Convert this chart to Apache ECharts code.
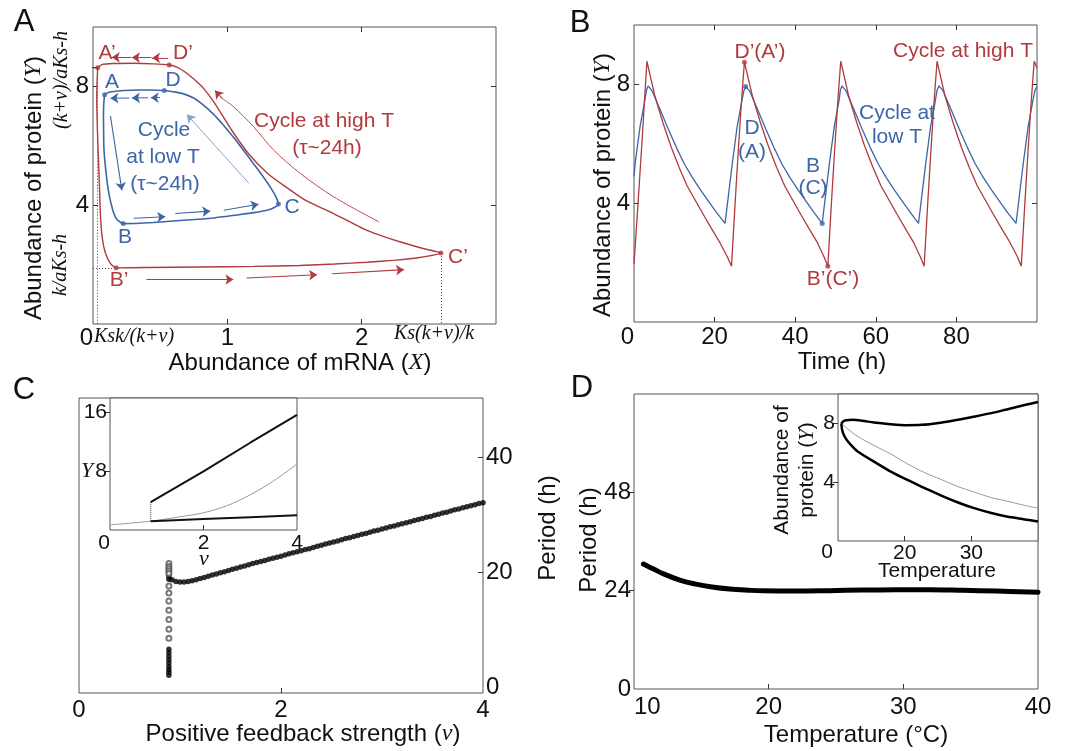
<!DOCTYPE html>
<html><head><meta charset="utf-8">
<script src="https://cdn.jsdelivr.net/npm/echarts@6/dist/echarts.min.js"></script>
<style>html,body{margin:0;padding:0;background:#fff}#main{width:1078px;height:751px}</style>
</head><body><div id="main"></div>
<script>
// ---------------- DATA ----------------
// Panel A: phase plane (X = mRNA, Y = protein)
const redCycleA = [
[0.035,8.63],[0.03,8.1],[0.028,7.6],[0.033,6.5],[0.042,5.4],[0.049,4.5],[0.055,3.72],[0.064,3.1],[0.079,2.62],[0.098,2.32],[0.123,2.08],[0.148,1.95],[0.173,1.89],
[0.4,1.9],[0.8,1.92],[1.2,1.94],[1.54,1.97],[1.8,2.02],[2.04,2.08],[2.25,2.15],[2.42,2.23],[2.589,2.39],
[2.45,2.55],[2.29,2.76],[2.16,2.95],[2.04,3.15],[1.92,3.42],[1.79,3.72],[1.68,3.95],[1.58,4.17],[1.44,4.6],[1.3,5.07],[1.155,5.75],[1.03,6.54],[0.905,7.44],[0.82,7.95],[0.75,8.25],[0.68,8.5],[0.62,8.66],[0.567,8.72],
[0.45,8.76],[0.3,8.78],[0.15,8.77],[0.07,8.74],[0.035,8.63]
];
const blueCycleA = [
[0.086,7.72],[0.08,7.4],[0.078,7.06],[0.079,6.5],[0.081,5.94],[0.09,5.4],[0.104,4.83],[0.118,4.4],[0.134,4.06],[0.15,3.8],[0.166,3.61],[0.19,3.47],[0.225,3.38],
[0.45,3.42],[0.7,3.5],[0.9,3.57],[1.07,3.67],[1.2,3.75],[1.295,3.83],[1.35,3.92],[1.38,4.04],
[1.36,4.3],[1.32,4.61],[1.26,5.0],[1.196,5.39],[1.12,5.85],[1.047,6.28],[0.97,6.7],[0.898,7.06],[0.82,7.38],[0.749,7.61],[0.68,7.74],[0.625,7.8],[0.53,7.86],
[0.43,7.88],[0.328,7.88],[0.23,7.86],[0.154,7.83],[0.11,7.79],[0.086,7.72]
];
const redPointsA = [[0.035,8.63],[0.567,8.72],[2.589,2.39],[0.173,1.89]];   // A', D', C', B'
const bluePointsA = [[0.086,7.72],[0.53,7.86],[1.38,4.04],[0.225,3.38]];    // A, D, C, B
const redArrowsA = [
 [[0.559,8.96],[0.44,8.96]],[[0.435,8.97],[0.29,8.97]],[[0.286,8.98],[0.14,8.98]],
 [[0.398,1.49],[1.045,1.50]],[[1.144,1.55],[1.668,1.66]],[[1.78,1.69],[2.315,1.83]],
 [[0.96,7.6],[0.908,7.86]]
];
const redCurvedArrowA = [[2.128,3.44],[1.792,4.28],[1.543,5.07],[1.344,5.86],[1.194,6.65],[1.045,7.32],[0.96,7.6]];
const blueArrowsA = [
 [[0.50,7.62],[0.43,7.62]],[[0.41,7.62],[0.29,7.61]],[[0.27,7.61],[0.13,7.60]],
 [[0.13,7.0],[0.215,4.5]],
 [[0.303,3.56],[0.538,3.61]],[[0.613,3.72],[0.873,3.80]],[[0.973,3.83],[1.233,4.03]]
];
const lightBlueArrowA = [[[1.16,4.74],[0.70,7.05]]];
const dottedRefsA = [[[0.035,8.63],[0.035,0]],[[0,1.89],[0.173,1.89]],[[2.589,2.39],[2.589,0]]];
const aPrimeLevel = [[-0.15,8.63],[0.035,8.63]];

// Panel B: time series
const redTimeB = [0,1.0,2.0,3.2, 5.2,7.2,9.2,11.2,13.2,15.2,17.2,19.2,21.2,23.2,24.2, 25.0,25.8,26.6,27.4,
 29.4,31.4,33.4,35.4,37.4,39.4,41.4,43.4,45.4,47.2,48.1, 48.9,49.7,50.5,51.3,
 53.3,55.3,57.3,59.3,61.3,63.3,65.3,67.3,69.3,71.1,72.0, 72.8,73.6,74.4,75.2,
 77.2,79.2,81.2,83.2,85.2,87.2,89.2,91.2,93.2,95.2,96.1, 96.9,97.7,98.5,99.3,100];
const redValB = [1.95,4.0,6.1,8.78, 7.6,6.7,5.9,5.2,4.58,4.1,3.62,3.15,2.7,2.18,1.88, 3.8,5.6,7.3,8.75,
 7.6,6.7,5.9,5.2,4.58,4.1,3.62,3.15,2.7,2.18,1.88, 3.8,5.6,7.3,8.78,
 7.6,6.7,5.9,5.2,4.58,4.1,3.62,3.15,2.7,2.18,1.88, 3.8,5.6,7.3,8.78,
 7.6,6.7,5.9,5.2,4.58,4.1,3.62,3.15,2.7,2.18,1.88, 3.8,5.6,7.3,8.78,8.55];
const blueTimeB = [0,0.3,1.5,2.7,3.1,3.5, 4.5,6.5,8.5,10.5,12.5,14.5,16.5,18.5,20.5,22.6,
 23.5,24.4,25.6,26.8,27.3,27.7, 28.7,30.7,32.7,34.7,36.7,38.7,40.7,42.7,44.7,46.7,
 47.6,48.5,49.7,50.9,51.2,51.6, 52.6,54.6,56.6,58.6,60.6,62.6,64.6,66.6,68.6,70.6,
 71.5,72.4,73.6,74.8,75.2,75.7, 76.7,78.7,80.7,82.7,84.7,86.7,88.7,90.7,92.7,94.8,
 95.7,96.6,97.8,99.0,99.5,100];
const blueValB = [4.9,5.35,6.58,7.47,7.8,7.95, 7.78,7.15,6.5,5.88,5.32,4.86,4.45,4.06,3.68,3.32,
 4.34,5.35,6.58,7.47,7.8,7.93, 7.78,7.15,6.5,5.88,5.32,4.86,4.45,4.06,3.68,3.32,
 4.34,5.35,6.58,7.47,7.8,7.95, 7.78,7.15,6.5,5.88,5.32,4.86,4.45,4.06,3.68,3.32,
 4.34,5.35,6.58,7.47,7.8,7.95, 7.78,7.15,6.5,5.88,5.32,4.86,4.45,4.06,3.68,3.32,
 4.34,5.35,6.58,7.47,7.8,7.93];
const redMarksB = [[27.4,8.75],[48.1,1.88]];
const blueMarksB = [[27.7,7.93],[46.7,3.32]];

// Panel C: period vs positive feedback strength
const vMain = [0.92,0.96,1.00,1.04,1.08,1.12,1.16,1.20,1.24,1.28,1.32,1.36,1.40,1.44,1.48,1.52,1.56,1.60,1.64,1.68,1.72,1.76,1.80,1.84,1.88,1.92,1.96,2.00,
 2.04,2.08,2.12,2.16,2.20,2.24,2.28,2.32,2.36,2.40,2.44,2.48,2.52,2.56,2.60,2.64,2.68,2.72,2.76,2.80,2.84,2.88,2.92,2.96,3.00,
 3.04,3.08,3.12,3.16,3.20,3.24,3.28,3.32,3.36,3.40,3.44,3.48,3.52,3.56,3.60,3.64,3.68,3.72,3.76,3.80,3.84,3.88,3.92,3.96,4.00];
const periodMain = [18.7,18.4,18.3,18.3,18.4,18.5,18.7,18.9,19.1,19.3,19.5,19.7,19.9,20.1,20.3,20.5,20.7,20.9,21.1,21.3,21.5,21.7,21.85,22.05,22.25,22.45,22.6,22.8,
 23.0,23.2,23.4,23.55,23.75,23.95,24.1,24.3,24.5,24.7,24.9,25.1,25.25,25.45,25.65,25.85,26.0,26.2,26.4,26.6,26.75,26.95,27.15,27.3,27.5,
 27.7,27.9,28.05,28.25,28.45,28.6,28.8,29.0,29.15,29.35,29.55,29.7,29.9,30.1,30.3,30.45,30.65,30.85,31.0,31.2,31.4,31.55,31.75,31.95,32.1];
const vStack = 0.89;
const stackFilled = [19.3,18.8,6.6,6.0,5.4,4.8,4.2,3.6,3.1,2.6,2.1];
const stackOpen = [21.5,21.0,20.6,20.2,19.8,17.6,16.4,15.0,13.4,11.8,10.1,8.5];
// Panel C inset: Y vs v
const insetCUpper = [[0.87,3.8],[2,8.0],[3,11.9],[4,15.7]];
const insetCLower = [[0.87,1.2],[2,1.5],[3,1.75],[4,2.0]];
const insetCJump = [[0.87,1.2],[0.87,3.8]];
const insetCGray = [[0,0.7],[0.87,1.2],[1.5,1.8],[2.0,2.35],[2.5,3.3],[3.0,4.8],[3.5,6.7],[4.0,9.0]];

// Panel D: period vs temperature
const periodD = [[10.7,30.5],[11.5,29.2],[12.2,28.1],[13.4,26.6],[14.6,25.6],[15.8,24.9],[17.1,24.4],[18.5,24.1],[19.6,23.95],[22.1,23.9],[24.5,24.0],[27,24.15],[29.5,24.25],[31.9,24.25],[34.4,24.1],[36.9,23.9],[40,23.6]];
const insetDUpper = [[10.5,8.0],[10.8,8.15],[11.2,8.22],[12.2,8.24],[13.6,8.18],[15.4,8.06],[17.5,7.96],[20.4,7.88],[22.5,7.9],[25.4,8.05],[28,8.25],[30.3,8.45],[33,8.7],[35.3,8.95],[38,9.25],[40,9.46]];
const insetDLower = [[10.5,8.0],[10.6,7.6],[10.8,7.3],[11.2,6.95],[12,6.5],[13,6.07],[15.4,5.4],[18,4.7],[20.4,4.15],[23,3.6],[25.4,3.1],[28,2.62],[30.3,2.25],[33,1.9],[35.3,1.66],[38,1.47],[40,1.33]];
const insetDGray = [[10.5,8.0],[11.5,7.6],[13,7.1],[15.4,6.5],[18,5.9],[20.4,5.25],[23,4.65],[25.4,4.2],[28,3.7],[30.3,3.35],[33,2.95],[35.3,2.72],[38,2.42],[40,2.24]];

// ---------------- STYLE / LAYOUT ----------------
const RED = '#b03a3e', BLUE = '#3d66a7', LBLUE = '#87a2cc';
const SANS = '"Liberation Sans", Arial, Helvetica, sans-serif';
const SERIF = '"Liberation Serif", "Times New Roman", serif';

function xAx(grid, min, max, labels, ticks, o) {
  o = o || {};
  return {
    type: 'value', gridIndex: grid, min, max, position: o.pos || 'bottom',
    axisLine: {show: false, onZero: false}, splitLine: {show: false},
    axisTick: {show: ticks.length > 0, customValues: ticks, inside: o.inside !== false, length: 5, lineStyle: {color: '#333'}},
    axisLabel: {show: labels.length > 0, customValues: labels, fontSize: o.fs || 24, color: '#111', fontFamily: SANS, margin: o.margin || 3,
      alignMinLabel: o.alignMin, formatter: v => String(v)}
  };
}
function yAx(grid, min, max, labels, ticks, o) {
  o = o || {};
  return {
    type: 'value', gridIndex: grid, min, max, position: o.pos || 'left',
    axisLine: {show: false, onZero: false}, splitLine: {show: false},
    axisTick: {show: ticks.length > 0, customValues: ticks, inside: o.inside !== false, length: 5, lineStyle: {color: '#333'}},
    axisLabel: {show: labels.length > 0, customValues: labels, fontSize: o.fs || 24, color: '#111', fontFamily: SANS, margin: o.margin || 4,
      formatter: v => String(v)}
  };
}
function txt(x, y, text, o) {
  o = o || {};
  const fs = o.size || 24;
  return {
    type: 'text', x, y, rotation: o.rot || 0, z: 100,
    style: {
      text, fill: o.color || '#111', fontSize: fs, fontFamily: o.serif ? SERIF : SANS,
      fontStyle: o.italic ? 'italic' : 'normal', align: 'center', verticalAlign: 'middle',
      textAlign: 'center', textVerticalAlign: 'middle', lineHeight: o.lh || fs * 1.15,
      rich: {i: {fontFamily: SERIF, fontStyle: 'italic', fontSize: fs, fill: o.color || '#111', color: o.color || '#111'}}
    }
  };
}
const segs = arr => arr.map(c => ({coords: c}));
const zip = (a, b) => a.map((v, i) => [v, b[i]]);
const R90 = Math.PI / 2;

const grids = [
  {left: 93, top: 27, width: 403, height: 297},   // A
  {left: 634, top: 25, width: 403, height: 297},  // B
  {left: 79, top: 398, width: 404, height: 295},  // C
  {left: 110, top: 398, width: 187, height: 132, backgroundColor: '#fff'}, // C inset
  {left: 634, top: 394, width: 404, height: 295}, // D
  {left: 838, top: 394, width: 200, height: 147, backgroundColor: '#fff'}  // D inset
].map(g => Object.assign({show: true, borderColor: '#555', borderWidth: 1, containLabel: false}, g));

const option = {
  animation: false,
  backgroundColor: '#fff',
  grid: grids,
  xAxis: [
    xAx(0, 0, 3, [0, 1, 2], [1, 2], {alignMin: 'right', margin: 2}),
    xAx(0, 0, 3, [], [1, 2], {pos: 'top'}),
    xAx(1, 0, 100, [0, 20, 40, 60, 80], [20, 40, 60, 80], {alignMin: 'right', margin: 3}),
    xAx(1, 0, 100, [], [20, 40, 60, 80], {pos: 'top'}),
    xAx(2, 0, 4, [0, 2, 4], [2], {margin: 5}),
    xAx(3, 0, 4, [0, 2, 4], [2], {fs: 21, alignMin: 'right', margin: 3}),
    xAx(4, 10, 40, [10, 20, 30, 40], [20, 30], {alignMin: 'left', margin: 6}),
    xAx(5, 10, 40, [20, 30], [20, 30], {fs: 21, margin: 2})
  ],
  yAxis: [
    yAx(0, 0, 10, [4, 8], [4, 8]),
    yAx(0, 0, 10, [], [4, 8], {pos: 'right'}),
    yAx(1, 0, 10, [4, 8], [4, 8]),
    yAx(1, 0, 10, [], [4, 8], {pos: 'right'}),
    yAx(2, -1, 50.3, [0, 20, 40], [20, 40], {pos: 'right', margin: 3}),
    yAx(3, 0, 18, [8, 16], [8, 16], {fs: 21, inside: false, margin: 3}),
    yAx(4, 0, 72, [0, 24, 48], [24, 48], {inside: false, margin: 3}),
    yAx(5, 0, 10, [4, 8], [4, 8], {fs: 21, inside: false, margin: 3})
  ],
  series: [
    // ---- A ----
    {type: 'lines', coordinateSystem: 'cartesian2d', xAxisIndex: 0, yAxisIndex: 0, silent: true,
     data: segs(dottedRefsA), lineStyle: {color: '#444', width: 1, opacity: 1, type: [1, 2]}},
    {type: 'line', xAxisIndex: 0, yAxisIndex: 0, data: aPrimeLevel, clip: false, showSymbol: false, silent: true,
     lineStyle: {color: '#222', width: 1}},
    {type: 'line', xAxisIndex: 0, yAxisIndex: 0, data: redCycleA, showSymbol: false, smooth: 0.2, silent: true,
     lineStyle: {color: RED, width: 1.4}},
    {type: 'line', xAxisIndex: 0, yAxisIndex: 0, data: blueCycleA, showSymbol: false, smooth: 0.2, silent: true,
     lineStyle: {color: BLUE, width: 1.6}},
    {type: 'scatter', xAxisIndex: 0, yAxisIndex: 0, data: redPointsA, symbolSize: 5, itemStyle: {color: RED}},
    {type: 'scatter', xAxisIndex: 0, yAxisIndex: 0, data: bluePointsA, symbolSize: 5, itemStyle: {color: BLUE}},
    {type: 'lines', coordinateSystem: 'cartesian2d', xAxisIndex: 0, yAxisIndex: 0, silent: true,
     data: segs(redArrowsA), symbol: ['none', 'arrow'], symbolSize: 8, lineStyle: {color: RED, width: 1.1, opacity: 1}},
    {type: 'line', xAxisIndex: 0, yAxisIndex: 0, data: redCurvedArrowA, showSymbol: false, smooth: 0.3, silent: true,
     lineStyle: {color: RED, width: 0.9}},
    {type: 'lines', coordinateSystem: 'cartesian2d', xAxisIndex: 0, yAxisIndex: 0, silent: true,
     data: segs(blueArrowsA), symbol: ['none', 'arrow'], symbolSize: 8, lineStyle: {color: BLUE, width: 1.1, opacity: 1}},
    {type: 'lines', coordinateSystem: 'cartesian2d', xAxisIndex: 0, yAxisIndex: 0, silent: true,
     data: segs(lightBlueArrowA), symbol: ['none', 'arrow'], symbolSize: 8, lineStyle: {color: LBLUE, width: 1, opacity: 1}},
    // ---- B ----
    {type: 'line', xAxisIndex: 2, yAxisIndex: 2, data: zip(blueTimeB, blueValB), showSymbol: false, silent: true,
     lineStyle: {color: BLUE, width: 1.3}},
    {type: 'line', xAxisIndex: 2, yAxisIndex: 2, data: zip(redTimeB, redValB), showSymbol: false, silent: true,
     lineStyle: {color: RED, width: 1.3}},
    {type: 'scatter', xAxisIndex: 2, yAxisIndex: 2, data: redMarksB, symbolSize: 5, itemStyle: {color: RED}},
    {type: 'scatter', xAxisIndex: 2, yAxisIndex: 2, data: blueMarksB, symbolSize: 5, itemStyle: {color: BLUE}},
    // ---- C ----
    {type: 'scatter', xAxisIndex: 4, yAxisIndex: 4, data: zip(vMain, periodMain), symbolSize: 5.5, itemStyle: {color: '#000'}},
    {type: 'scatter', xAxisIndex: 4, yAxisIndex: 4, data: stackFilled.map(p => [vStack, p]), symbolSize: 5.5, itemStyle: {color: '#000'}},
    {type: 'scatter', xAxisIndex: 4, yAxisIndex: 4, data: stackOpen.map(p => [vStack, p]), symbol: 'emptyCircle', symbolSize: 5,
     itemStyle: {color: '#555', borderWidth: 0.8}},
    // C inset
    {type: 'line', xAxisIndex: 5, yAxisIndex: 5, data: insetCGray, showSymbol: false, smooth: 0.3, silent: true,
     lineStyle: {color: '#9a9a9a', width: 1}},
    {type: 'line', xAxisIndex: 5, yAxisIndex: 5, data: insetCJump, showSymbol: false, silent: true,
     lineStyle: {color: '#777', width: 1.5, type: [1, 1]}},
    {type: 'line', xAxisIndex: 5, yAxisIndex: 5, data: insetCUpper, showSymbol: false, silent: true,
     lineStyle: {color: '#111', width: 2}},
    {type: 'line', xAxisIndex: 5, yAxisIndex: 5, data: insetCLower, showSymbol: false, silent: true,
     lineStyle: {color: '#111', width: 2}},
    // ---- D ----
    {type: 'line', xAxisIndex: 6, yAxisIndex: 6, data: periodD, showSymbol: false, smooth: 0.4, silent: true,
     lineStyle: {color: '#000', width: 5, cap: 'round'}},
    {type: 'line', xAxisIndex: 7, yAxisIndex: 7, data: insetDGray, showSymbol: false, smooth: 0.3, silent: true,
     lineStyle: {color: '#9a9a9a', width: 1}},
    {type: 'line', xAxisIndex: 7, yAxisIndex: 7, data: insetDUpper, showSymbol: false, smooth: 0.3, silent: true,
     lineStyle: {color: '#000', width: 2.5}},
    {type: 'line', xAxisIndex: 7, yAxisIndex: 7, data: insetDLower, showSymbol: false, smooth: 0.3, silent: true,
     lineStyle: {color: '#000', width: 2.5}}
  ],
  graphic: [
    // panel letters
    txt(24, 22, 'A', {size: 31}), txt(580, 23, 'B', {size: 31}), txt(24, 390, 'C', {size: 31}), txt(582, 388, 'D', {size: 31}),
    // A titles
    txt(34, 188, 'Abundance of protein ({i|Y})', {rot: R90}),
    txt(300, 363, 'Abundance of mRNA ({i|X})'),
    txt(134, 337, 'Ksk/(k+ν)', {serif: true, italic: true, size: 20}),
    txt(434, 334, 'Ks(k+ν)/k', {serif: true, italic: true, size: 20}),
    txt(62, 80, '(k+ν)/aKs-h', {serif: true, italic: true, size: 20, rot: R90}),
    txt(61, 265, 'k/aKs-h', {serif: true, italic: true, size: 20, rot: R90}),
    // A annotations
    txt(107, 53, 'A’', {color: RED, size: 21}), txt(183, 53, 'D’', {color: RED, size: 21}),
    txt(324, 121, 'Cycle at high T', {color: RED, size: 21}), txt(327, 148, '(τ~24h)', {color: RED, size: 21}),
    txt(458, 257, 'C’', {color: RED, size: 21}), txt(119, 280, 'B’', {color: RED, size: 21}),
    txt(112, 82, 'A', {color: BLUE, size: 21}), txt(173, 80, 'D', {color: BLUE, size: 21}),
    txt(164, 130, 'Cycle', {color: BLUE, size: 21}), txt(163, 157, 'at low T', {color: BLUE, size: 21}),
    txt(165, 184, '(τ~24h)', {color: BLUE, size: 21}),
    txt(292, 207, 'C', {color: BLUE, size: 21}), txt(125, 237, 'B', {color: BLUE, size: 21}),
    // B titles & annotations
    txt(603, 185, 'Abundance of protein ({i|Y})', {rot: R90}),
    txt(842, 362, 'Time (h)'),
    txt(760, 52, 'D’(A’)', {color: RED, size: 21}), txt(963, 51, 'Cycle at high T', {color: RED, size: 21}),
    txt(833, 279, 'B’(C’)', {color: RED, size: 21}),
    txt(752, 128, 'D', {color: BLUE, size: 21}), txt(752, 152, '(A)', {color: BLUE, size: 21}),
    txt(813, 166, 'B', {color: BLUE, size: 21}), txt(813, 188, '(C)', {color: BLUE, size: 21}),
    txt(897, 113, 'Cycle at', {color: BLUE, size: 21}), txt(897, 137, 'low T', {color: BLUE, size: 21}),
    // C titles
    txt(303, 734, 'Positive feedback strength ({i|ν})'),
    txt(548, 528, 'Period (h)', {rot: R90}),
    txt(204, 559, 'ν', {serif: true, italic: true, size: 22}),
    txt(87, 471, 'Y', {serif: true, italic: true, size: 22}),
    // D titles
    txt(589, 540, 'Period (h)', {rot: R90}),
    txt(856, 735, 'Temperature (°C)'),
    txt(937, 571, 'Temperature', {size: 21}),
    txt(795, 470, 'Abundance of\nprotein ({i|Y})', {size: 21, rot: R90, lh: 25}),
    txt(827, 552, '0', {size: 21})
  ]
};
const chart = echarts.init(document.getElementById('main'));
chart.setOption(option);
</script></body></html>
